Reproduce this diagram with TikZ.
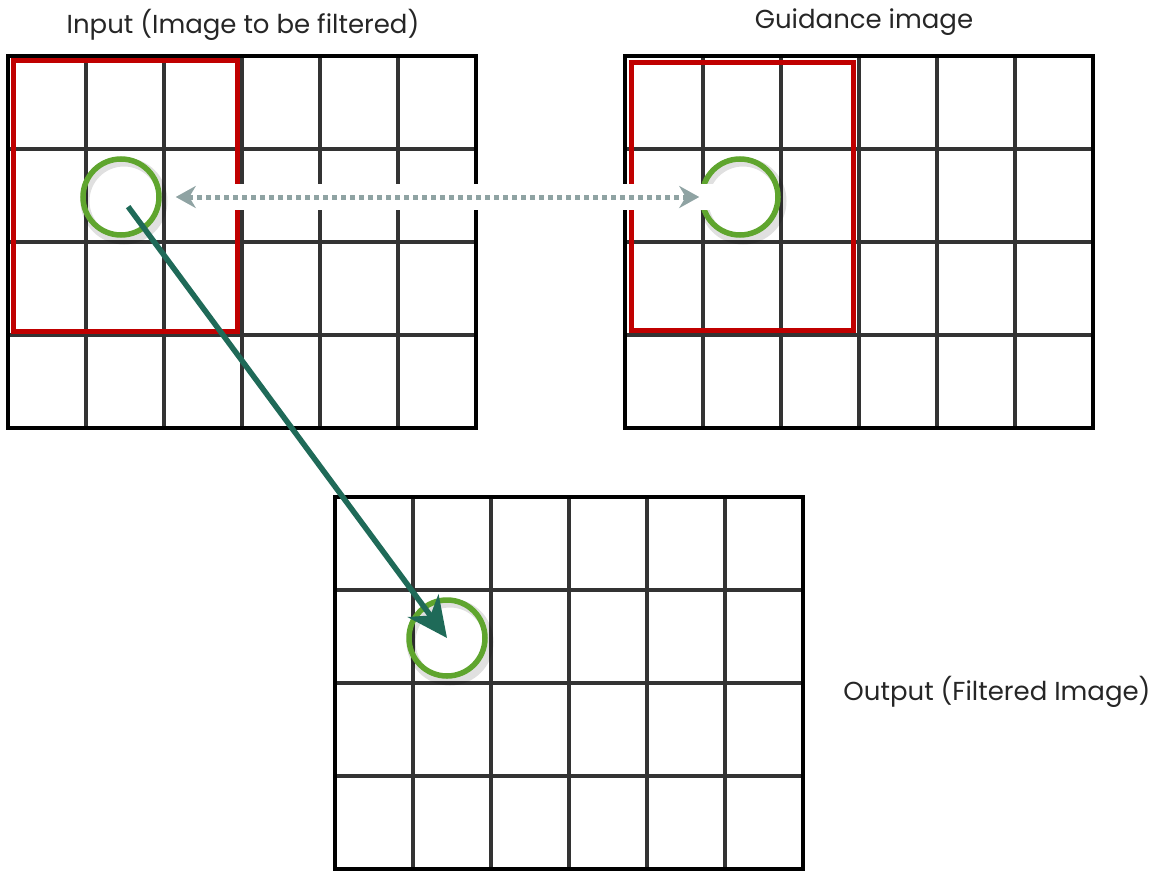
\documentclass[tikz,border=0pt]{standalone}
\usepackage{fontspec}
\setmainfont{Poppins}
\usetikzlibrary{positioning,arrows.meta}

\definecolor{gridgray}{HTML}{333333}
\definecolor{boxred}{HTML}{C00000}
\definecolor{ringgreen}{HTML}{5FA52E}
\definecolor{linkgray}{HTML}{8FA3A3}
\definecolor{mapgreen}{HTML}{1F6A58}

% 6x4 pixel grid, top-left corner given
\newcommand{\pixgrid}[2]{%
  \foreach \i in {1,...,5} \draw[gridline] (#1+\i*78,#2) -- ++(0,372);
  \foreach \j in {1,2,3} \draw[gridline] (#1,#2+\j*93) -- ++(468,0);
  \draw[gridframe] (#1,#2) rectangle ++(468,372);
}

\begin{document}
\begin{tikzpicture}[x=1pt, y=-1pt,
  every node/.style={font=\fontsize{26}{30}\selectfont, text=black!85},
  gridline/.style={draw=gridgray, line width=4pt},
  gridframe/.style={draw=black, line width=4pt},
  window/.style={draw=boxred, line width=5pt},
  ring/.style={circle, draw=ringgreen, line width=5.5pt, minimum size=76pt, inner sep=0pt},
  ringshade/.style={circle, draw=black, opacity=0.12, line width=9pt, minimum size=78pt, inner sep=0pt},
  linkdots/.style={draw=linkgray, line width=5pt, dash pattern=on 5pt off 4pt,
    {Stealth[length=20pt,width=22pt]}-{Stealth[length=20pt,width=22pt]}},
  mapline/.style={draw=mapgreen, line width=5.5pt, -{Stealth[length=40pt,width=38pt,inset=12pt]}, shorten <=12pt}]
\useasboundingbox (0,0) rectangle (1166,870);

\node (inlabel) at (243,25) {Input (Image to be filtered)};
\node (gulabel) at (864,22) {Guidance image};
\node (outlabel) at (997,692) {Output (Filtered Image)};

\pixgrid{8}{56}
\pixgrid{625}{56}
\pixgrid{335}{497}

\draw[window] (13,60) rectangle (237,331);
\draw[window] (631,62) rectangle (853,330);

% soft shade under the rings
\node[ringshade] at (124,201) {};
\node[ringshade] at (743,201) {};
\node[ringshade] at (450,642) {};

\node[ring] (inpix) at (121,197) {};
\node[ring] (gupix) at (740,197) {};
\node[ring] (outpix) at (447,638) {};

\draw[white, line width=26pt] ([xshift=12pt]inpix.east) -- ([xshift=30pt]gupix.west);
\draw[linkdots] ([xshift=14pt]inpix.east) -- (gupix.west);
\draw[mapline] (inpix.center) -- (outpix.center);
\end{tikzpicture}
\end{document}
